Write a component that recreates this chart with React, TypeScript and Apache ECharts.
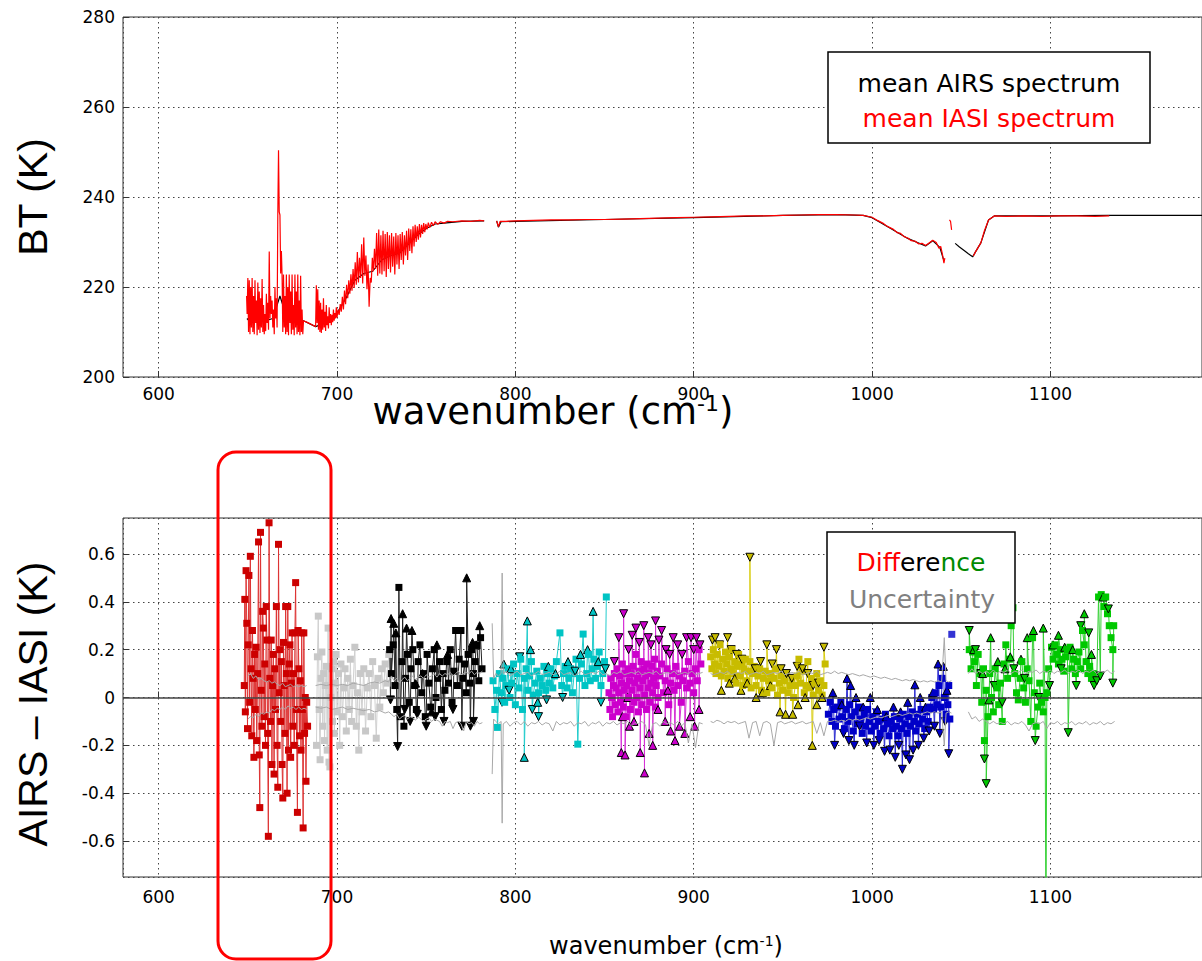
import React, { useEffect, useRef } from "react";
import * as echarts from "echarts";

type Pt = [number, number | null];

// ---------- Top panel: mean spectra [wavenumber (cm-1), BT (K)] ----------
const iasiSpectrum: Pt[] = [
  [649.3,218],[649.6,214],[650.0,222],[650.4,210],[650.8,221.5],[651.2,209.5],[651.6,220],[652.0,211],[652.4,222],[652.8,210],
  [653.2,218],[653.6,209.5],[654.0,221.5],[654.4,212],[654.8,217],[655.2,209.3],[655.6,221],[656.0,210.5],[656.4,219],[656.8,209.8],
  [657.2,217.5],[657.6,211],[658.0,221.8],[658.4,210],[658.8,216],[659.2,209.5],[659.6,214],[660.0,210.2],[660.4,218.5],[660.8,212],
  [661.2,216.5],[661.6,210.5],[662.0,227.9],[662.4,213],[662.8,218],[663.2,214],[663.6,217],[664.0,211],[664.4,215],[664.8,209.5],
  [665.2,220],[665.6,213],[666.0,217.5],[666.4,211],[666.8,236],[667.2,250.4],[667.6,236.7],[668.0,236],[668.4,223],[668.8,228],
  [669.2,222.5],[669.6,210],[670.0,222.8],[670.4,211],[670.8,218],[671.2,209.5],[671.6,222.8],[672.0,210],[672.4,220],[672.8,209.3],
  [673.2,222.8],[673.6,212],[674.0,219],[674.4,209.5],[674.8,222.8],[675.2,210.5],[675.6,216],[676.0,209.3],[676.4,222.8],[676.8,211],
  [677.2,219],[677.6,209.5],[678.0,222.8],[678.4,210],[678.8,217],[679.2,209.3],[679.6,222.5],[680.0,210],[680.4,215],[680.8,209.5],
  [681.2,212.5],[683.0,212.2],[685.0,211.8],[687.0,211.4],[688.0,211.2],[688.4,220.4],[688.8,212],[689.2,219.5],[689.6,210.5],[690.0,217],
  [690.4,210],[690.8,216.5],[691.2,209.8],[691.6,215],[692.0,210.5],[692.4,217.5],[692.8,211],[693.2,214.5],[693.6,210.2],[694.0,216],
  [694.4,211.5],[694.8,213.5],[695.2,210.8],[695.6,215.5],[696.0,212],[696.4,214],[696.8,211.5],[697.2,213.8],[697.6,212.2],[698.0,215],
  [698.4,212.5],[698.8,214.2],[699.2,213],[699.6,215.5],[700.0,213.2],[700.6,215],[701.2,213.8],[701.8,216.2],[702.4,214.5],[703.0,217.8],
  [703.6,215],[704.2,219.2],[704.8,216.2],[705.4,220.5],[706.0,217.5],[706.6,221.5],[707.2,218.5],[707.8,222.8],[708.4,219.2],[709.0,224],
  [709.6,219.8],[710.2,225.5],[710.8,220.5],[711.4,227.8],[712.0,221],[712.6,226.5],[713.2,222],[713.8,229.5],[714.4,220.8],[715.0,231],
  [715.6,222.5],[716.2,227],[716.8,219.5],[717.4,225],[718.0,215.6],[718.6,222],[719.2,221],[719.8,226.5],[720.4,223.5],[721.0,228.5],
  [721.6,224],[722.2,232],[722.8,222.5],[723.4,232.8],[724.0,223],[724.6,231.5],[725.2,222.8],[725.8,232.5],[726.4,223.5],[727.0,231.8],
  [727.6,222.2],[728.2,232.2],[728.8,224],[729.4,231.5],[730.0,223.2],[730.6,232],[731.2,224.5],[731.8,231.2],[732.4,222.8],[733.0,232],
  [733.6,225],[734.2,231.5],[734.8,224],[735.4,231.8],[736.0,226],[736.6,232.2],[737.2,225],[737.8,231.5],[738.4,227],[739.0,232.5],
  [739.6,226],[740.2,233],[740.8,228],[741.4,232.8],[742.0,227.5],[742.6,233.5],[743.2,229],[743.8,233.8],[744.4,230],[745.0,233.5],
  [745.6,230.5],[746.2,234],[746.8,231],[747.4,233.8],[748.0,231.8],[748.6,234.2],[749.2,232.2],[749.8,234],[750.5,232.8],[751.2,234.3],
  [752.0,233.2],[753.0,234.4],[754.0,233.6],[755.0,234.5],[756.5,233.9],[758.0,234.5],[760.0,234.2],[762.0,234.6],[765.0,234.5],[770.0,234.7],
  [775.0,234.6],[780.0,234.8],[782.5,234.7],[784.0,null],
  [789.5,234.7],[790.5,233.4],[791.5,234.6],[795,234.6],[800,234.7],[810,234.8],[820,234.9],[830,234.9],[840,235.0],[850,235.0],
  [860,235.1],[870,235.2],[880,235.3],[890,235.4],[900,235.5],[910,235.6],[920,235.7],[930,235.8],[940,235.8],[950,235.9],
  [960,236.0],[970,236.1],[980,236.1],[990,236.0],[995,235.9],[1000,235.5],[1003,234.8],[1006,234.2],[1008,233.6],[1010,233.2],
  [1012,232.8],[1014,232.1],[1016,231.9],[1018,231.2],[1020,230.9],[1022,230.3],[1024,230.2],[1026,229.6],[1028,229.7],[1030,229.2],
  [1032,229.8],[1034,230.4],[1036,229.9],[1037.5,228.6],[1038.5,229.0],[1039.5,227.2],[1040.3,225.3],[1040.8,226.4],[1042.0,null],
  [1043.4,234.9],[1044.0,234.6],[1044.6,232.7],[1045.5,null],
  [1056.8,226.9],[1058,227.8],[1059.5,228.8],[1061,229.8],[1063,232.5],[1065.3,234.9],[1068.5,235.8],[1075,235.7],[1085,235.8],[1095,235.7],
  [1105,235.8],[1115,235.8],[1125,235.7],[1133,235.8]
];

const airsSpectrum: Pt[] = [
  [649.5,213],[652,212],[656,213.5],[660,212.5],[664,213],[668,218],[672,213],[676,212.5],[680,212],[681.2,212.5],
  [688,211.2],[692,211.8],[696,213],[700,214.2],[705,217.5],[710,221.5],[715,223],[720,223.5],[725,226],[730,227],
  [735,227.5],[740,229.5],[745,231.5],[750,233],[755,234],[760,234.2],[770,234.6],[782.5,234.7],[784,null],
  [789.5,234.7],[790.5,233.3],[792,234.5],[800,234.6],[850,235.0],[900,235.4],[950,235.9],[980,236.1],[995,235.9],[1000,235.4],
  [1010,233.1],[1020,230.8],[1030,229.1],[1034,230.3],[1038,228.8],[1040,226.2],[1041.5,null],
  [1046.6,229.7],[1049,228.9],[1052,228.0],[1054,227.4],[1056.4,226.7],[1058,227.8],[1061,229.8],[1065.3,234.9],[1068.5,235.8],[1100,235.8],
  [1133,235.9],[1160,235.9],[1185,235.9]
];

// ---------- Bottom panel: AIRS - IASI differences [wavenumber, K] ----------
const redSq: Pt[] = [
  [648.0,0.05],[648.3,0.41],[648.6,-0.06],[649.0,0.53],[649.4,0.31],[649.8,-0.13],[650.2,0.22],[650.6,0.51],[651.0,-0.02],[651.4,0.59],
  [651.8,0.12],[652.2,-0.16],[652.6,0.28],[653.0,0.08],[653.4,-0.25],[653.8,0.18],[654.2,-0.05],[654.6,0.21],[655.0,-0.18],[655.5,0.1],
  [656.0,0.65],[656.4,-0.24],[656.7,-0.46],[657.1,0.69],[657.5,0.03],[657.9,-0.12],[658.3,0.36],[658.7,0.29],[659.1,-0.08],[659.5,0.14],
  [659.9,-0.2],[660.3,0.38],[660.7,0.24],[661.1,-0.15],[661.5,-0.58],[661.9,0.73],[662.3,0.08],[662.7,-0.1],[663.1,0.24],[663.5,-0.28],
  [663.9,0.05],[664.3,0.18],[664.7,-0.32],[665.1,0.12],[665.5,-0.05],[666.0,0.38],[666.4,-0.2],[666.8,-0.375],[667.2,0.64],[667.6,0.02],
  [668.0,0.2],[668.4,-0.1],[668.8,0.15],[669.2,-0.28],[669.6,-0.42],[670.0,0.23],[670.4,0.05],[670.8,-0.15],[671.2,0.38],[671.6,0.1],
  [672.0,-0.4],[672.4,0.38],[672.8,-0.22],[673.2,0.14],[673.6,0.22],[674.0,-0.25],[674.4,0.06],[674.8,0.27],[675.2,-0.12],[675.6,0.1],
  [676.0,-0.2],[676.4,0.27],[676.8,0.48],[677.2,-0.05],[677.8,-0.48],[678.2,0.28],[678.6,0.12],[679.0,-0.16],[679.4,0.07],[679.8,-0.22],
  [680.2,0.27],[680.6,-0.05],[681.0,-0.545],[681.4,0.27],[681.8,-0.15],[682.2,0.0],[682.6,-0.35],[683.0,-0.02],[683.5,-0.12]
];

const graySq: Pt[] = [
  [688.5,-0.2],[689.0,0.17],[689.5,0.34],[690.0,-0.05],[690.5,-0.26],[691.0,0.08],[691.5,0.19],[692.0,-0.12],[692.5,0.1],[693.0,-0.18],
  [693.5,0.05],[694.0,0.13],[694.5,-0.22],[695.0,0.29],[695.5,-0.27],[696.0,-0.29],[696.5,0.0],[697.0,0.12],[697.5,-0.1],[698.0,0.15],
  [698.5,-0.15],[699.0,0.06],[699.5,0.18],[700.0,-0.06],[700.8,0.1],[701.5,-0.2],[702.2,0.14],[703.0,-0.08],[703.8,0.04],[704.5,0.12],
  [705.2,-0.14],[706.0,0.08],[706.8,-0.05],[707.5,0.16],[708.2,-0.1],[709.0,0.05],[710.0,0.21],[710.8,-0.12],[711.5,0.02],[712.2,-0.22],
  [713.0,0.1],[714.0,-0.06],[715.0,0.12],[716.0,-0.14],[717.0,0.04],[718.0,0.1],[719.0,-0.08],[720.0,0.15],[721.0,0.05],[722.0,-0.17],
  [723.0,0.08],[724.0,-0.04],[725.0,0.12],[726.0,0.02],[727.0,0.14],[728.0,0.06],[729.0,0.18]
];

const blackSq: Pt[] = [
  [729.5,0.2],[730.5,0.1],[731.5,0.22],[732.5,0.05],[733.5,-0.05],[734.7,0.46],[735.5,-0.08],[736.5,0.15],[737.5,-0.12],[738.5,0.08],
  [739.5,0.18],[740.5,-0.02],[741.5,0.12],[742.5,0.2],[743.5,0.05],[744.5,-0.05],[745.5,0.15],[746.5,0.22],[747.5,0.02],[748.5,0.1],
  [749.5,-0.08],[750.5,0.18],[751.5,0.06],[752.5,-0.04],[753.5,0.12],[754.5,0.2],[755.5,0.0],[756.5,0.08],[757.5,0.15],[758.5,-0.05],
  [759.5,0.1],[760.5,0.03],[761.5,0.15],[762.5,0.06],[763.5,0.2],[764.5,-0.02],[765.5,0.11],[766.5,0.28],[767.5,0.05],[768.5,0.16],
  [769.5,0.28],[770.5,0.08],[771.5,0.14],[772.5,0.02],[773.5,0.18],[774.5,0.06],[775.5,0.2],[776.5,0.1],[777.5,0.15],[778.5,0.22],
  [779.5,0.07],[780.5,0.25],[781.3,0.12]
];
const blackUp: Pt[] = [
  [730.3,0.33],[731.8,0.31],[733.0,0.27],[736.8,0.35],[739.0,0.29],[742.0,0.28],[744.0,0.06],[748.0,0.1],[753.0,-0.06],[756.0,0.22],
  [762.0,0.18],[772.7,0.5],[776.0,0.23],[778.0,0.22],[780.0,0.3]
];
const blackDn: Pt[] = [
  [730.0,-0.01],[734.0,-0.205],[738.0,-0.05],[741.0,-0.1],[745.0,-0.07],[750.0,-0.12],[755.0,-0.08],[760.0,-0.1],[765.0,-0.05],[770.0,-0.12],
  [774.8,-0.12],[776.5,-0.1]
];

const cyanSq: Pt[] = [
  [787.5,0.07],[788.5,-0.05],[789.5,0.03],[790.0,-0.125],[791.0,0.1],[792.0,0.02],[793.0,0.08],[794.0,-0.02],[795.0,0.05],[796.0,0.12],
  [797.0,0.0],[798.0,0.06],[799.0,0.14],[800.0,-0.03],[801.0,0.1],[802.0,0.04],[803.0,0.16],[804.0,-0.05],[805.0,0.08],[806.0,0.12],
  [807.0,0.03],[808.0,0.09],[809.0,0.15],[810.0,0.01],[811.0,0.06],[812.0,0.11],[813.0,0.02],[814.0,0.08],[815.0,0.05],[816.0,0.13],
  [817.0,0.03],[818.0,0.1],[819.0,0.06],[820.0,0.12],[821.0,0.04],[822.0,0.09],[823.0,0.15],[825.0,0.27],[826.0,0.05],[827.0,0.1],
  [828.0,0.13],[829.0,0.04],[830.0,0.08],[831.0,0.12],[832.0,0.02],[833.0,0.1],[834.0,0.16],[835.0,-0.195],[836.0,0.08],[837.0,0.14],
  [838.0,0.265],[839.0,0.05],[840.0,0.1],[841.0,0.18],[842.0,0.07],[843.0,0.12],[844.0,0.16],[845.0,0.08],[846.0,0.13],[847.0,0.19],
  [848.0,0.05],[849.0,0.1],[850.0,0.15],[851.0,0.42]
];
const cyanUp: Pt[] = [
  [793.5,0.14],[797.5,0.12],[805.0,-0.25],[806.7,0.32],[808.5,0.2],[812.5,-0.02],[818.5,0.13],[822.5,0.1],[829.5,0.15],[836.5,0.18],
  [840.5,0.2],[843.6,0.36],[846.5,0.15]
];
const cyanDn: Pt[] = [
  [792.5,-0.02],[796.5,0.03],[802.5,0.17],[809.5,-0.05],[813.0,-0.08],[817.5,-0.01],[826.5,0.0],[833.5,0.11],[848.0,-0.02],[850.5,0.12]
];

const magSq: Pt[] = [
  [852.5,0.02],[853.0,-0.05],[853.5,0.08],[854.0,0.0],[854.5,-0.08],[855.0,0.05],[855.5,0.1],[856.0,-0.03],[856.5,0.04],[857.0,0.12],
  [857.5,-0.06],[858.0,0.02],[858.5,0.09],[859.0,-0.02],[859.5,0.06],[860.0,0.14],[860.5,-0.04],[861.0,0.03],[861.5,0.1],[862.0,-0.08],
  [862.5,0.05],[863.0,0.12],[863.5,0.0],[864.0,0.07],[864.5,-0.05],[865.0,0.1],[865.5,0.03],[866.0,0.13],[866.5,-0.02],[867.0,0.06],
  [867.5,0.18],[868.0,0.0],[868.5,0.08],[869.0,-0.06],[869.5,0.11],[870.0,0.04],[870.5,0.15],[871.0,-0.03],[871.5,0.07],[872.0,0.12],
  [872.5,0.01],[873.0,0.09],[873.5,-0.05],[874.0,0.14],[874.5,0.04],[875.0,0.1],[875.5,-0.02],[876.0,0.06],[876.5,0.13],[877.0,0.02],
  [877.5,0.08],[878.0,0.16],[878.5,-0.04],[879.0,0.05],[879.5,0.11],[880.0,0.0],[881.0,0.09],[882.0,0.14],[883.0,0.02],[884.0,0.07],
  [885.0,0.12],[886.0,-0.03],[887.0,0.06],[888.0,0.1],[889.0,0.03],[890.0,0.13],[891.0,0.05],[892.0,0.09],[893.0,-0.02],[894.0,0.07],
  [895.0,0.11],[896.0,0.04],[897.0,0.15],[898.0,0.06],[899.0,0.1],[900.0,0.02],[901.0,0.12],[902.0,0.07],[903.0,0.2],[904.0,0.14]
];
const magUp: Pt[] = [
  [859.4,-0.23],[860.0,-0.08],[861.5,-0.24],[863.0,0.0],[864.0,-0.12],[866.5,-0.1],[870.0,-0.23],[872.4,-0.315],[875.0,-0.15],[877.0,-0.2],
  [880.0,-0.05],[884.0,-0.1],[885.5,0.03],[887.0,-0.14],[889.5,-0.18],[892.0,-0.12],[895.0,-0.15],[898.0,-0.08],[900.5,-0.12],[903.0,-0.05]
];
const magDn: Pt[] = [
  [855.5,0.15],[858.0,0.25],[860.7,0.35],[863.5,0.2],[865.5,0.26],[867.6,0.29],[869.5,0.23],[872.0,0.3],[874.5,0.25],[876.0,0.22],
  [878.6,0.32],[880.5,0.24],[882.0,0.28],[884.5,0.2],[886.5,0.18],[888.5,0.25],[891.0,0.22],[893.5,0.18],[896.0,0.25],[898.5,0.25],
  [900.0,0.2],[901.5,0.25],[903.5,0.22]
];

const yelSq: Pt[] = [
  [909.5,0.17],[910.2,0.12],[911.0,0.2],[911.8,0.14],[912.5,0.1],[913.2,0.18],[914.0,0.13],[914.8,0.22],[915.5,0.09],[916.2,0.16],
  [917.0,0.11],[917.8,0.19],[918.5,0.14],[919.2,0.08],[920.0,0.17],[920.8,0.12],[921.5,0.2],[922.2,0.1],[923.0,0.15],[923.8,0.06],
  [924.5,0.13],[925.2,0.18],[926.0,0.09],[926.8,0.14],[927.5,0.05],[928.2,0.12],[929.0,0.16],[929.8,0.07],[930.5,0.11],[931.5,0.15],
  [932.2,0.04],[933.0,0.1],[934.0,0.13],[935.0,0.05],[936.0,0.09],[937.0,0.12],[938.0,0.03],[939.0,0.08],[940.0,0.11],[941.0,0.02],
  [942.0,0.07],[943.0,0.1],[944.0,0.04],[945.0,0.08],[946.0,0.12],[947.0,0.01],[948.0,0.06],[949.0,0.09],[950.0,0.03],[951.0,0.07],
  [952.0,0.1],[953.0,0.02],[954.0,0.05],[955.0,0.08],[956.0,0.0],[957.0,0.05],[958.0,0.09],[959.0,0.16],[960.0,0.06],[961.0,0.11],
  [962.0,0.02],[963.0,0.05],[964.0,0.15],[965.0,0.04],[966.0,0.08],[967.0,0.01],[968.0,0.06],[969.0,0.1],[970.0,0.03],[971.0,0.07],
  [972.0,0.01],[973.0,0.05],[973.7,0.14]
];
const yelUp: Pt[] = [
  [915.5,0.03],[920.0,0.06],[923.0,0.08],[926.5,0.03],[930.0,0.06],[935.0,0.0],[938.5,0.02],[943.0,0.05],[948.4,-0.06],[951.5,-0.07],
  [955.5,-0.07],[958.5,-0.03],[962.5,0.0],[966.5,-0.2],[969.0,-0.03],[972.0,0.0]
];
const yelDn: Pt[] = [
  [910.5,0.24],[912.0,0.25],[914.5,0.22],[919.0,0.25],[921.0,0.2],[924.0,0.18],[927.0,0.16],[931.5,0.586],[934.5,0.12],[937.5,0.15],
  [941.0,0.22],[944.0,0.14],[946.4,0.2],[949.0,0.12],[952.0,0.1],[955.0,0.08],[958.0,0.13],[961.0,0.12],[964.0,0.1],[967.0,0.05],
  [970.0,0.06],[973.0,0.21]
];

const blueSq: Pt[] = [
  [975.5,-0.07],[976.5,-0.02],[977.5,-0.1],[978.5,-0.05],[979.5,-0.12],[980.5,-0.04],[981.5,-0.09],[982.5,-0.02],[983.5,-0.08],[984.5,-0.13],
  [985.5,-0.05],[986.5,-0.1],[987.5,-0.03],[988.5,-0.08],[989.5,-0.14],[990.5,-0.06],[991.5,-0.11],[992.5,-0.04],[993.5,-0.09],[994.5,-0.15],
  [995.5,-0.07],[996.5,-0.12],[997.5,-0.05],[998.5,-0.1],[999.5,-0.14],[1000.5,-0.08],[1001.5,-0.12],[1002.5,-0.06],[1003.5,-0.1],[1004.5,-0.15],
  [1005.5,-0.09],[1006.5,-0.13],[1007.5,-0.07],[1008.5,-0.11],[1009.5,-0.16],[1010.5,-0.1],[1011.5,-0.13],[1012.5,-0.08],[1013.5,-0.12],[1014.5,-0.16],
  [1015.5,-0.09],[1016.5,-0.13],[1017.5,-0.07],[1018.5,-0.11],[1019.5,-0.15],[1020.5,-0.08],[1021.5,-0.12],[1022.5,-0.06],[1023.5,-0.1],[1024.5,-0.14],
  [1025.5,-0.07],[1026.5,-0.11],[1027.5,-0.05],[1028.5,-0.09],[1029.5,-0.13],[1030.5,-0.06],[1031.5,-0.1],[1032.5,-0.04],[1033.5,0.0],[1034.5,-0.05],
  [1035.5,0.02],[1036.5,-0.03],[1037.5,0.05],[1038.5,-0.04],[1039.5,0.08],[1040.5,0.0],[1041.5,-0.07],[1042.5,-0.03],[1043.0,0.05],[1043.6,-0.09]
];
const blueUp: Pt[] = [
  [978.0,0.02],[983.0,-0.03],[986.0,0.08],[988.0,0.05],[991.0,0.0],[995.0,-0.04],[999.0,0.0],[1003.0,-0.05],[1008.0,-0.08],[1012.0,-0.04],
  [1016.0,-0.06],[1020.0,-0.02],[1024.0,0.053],[1027.0,0.0],[1030.0,-0.04],[1034.0,0.02],[1037.0,0.14],[1040.0,0.13],[1042.0,0.03]
];
const blueDn: Pt[] = [
  [979.0,-0.2],[984.0,-0.15],[987.0,-0.18],[990.0,-0.2],[993.0,-0.12],[997.0,-0.19],[1001.0,-0.2],[1004.0,-0.18],[1007.0,-0.225],[1010.0,-0.22],
  [1013.0,-0.25],[1015.0,-0.2],[1017.0,-0.3],[1019.0,-0.24],[1021.0,-0.26],[1023.0,-0.22],[1026.0,-0.2],[1029.0,-0.17],[1032.0,-0.14],[1035.0,-0.12],
  [1038.0,-0.15],[1041.0,-0.1],[1043.0,-0.235]
];
const blueLone: Pt[] = [[1044.7,0.264]];

const greenSq: Pt[] = [
  [1054.5,0.2],[1055.5,0.12],[1056.5,0.19],[1057.5,0.15],[1058.5,0.05],[1059.5,0.18],[1060.5,0.1],[1061.5,-0.02],[1062.5,0.12],[1063.0,-0.18],
  [1064.0,0.03],[1065.0,-0.08],[1066.0,0.1],[1067.0,0.0],[1068.0,-0.06],[1069.0,0.12],[1070.0,0.04],[1071.0,-0.03],[1072.0,0.06],[1073.0,-0.1],
  [1074.0,0.14],[1075.0,0.22],[1076.0,0.08],[1077.0,0.16],[1078.0,0.3],[1079.0,0.375],[1080.0,0.1],[1081.0,0.02],[1082.0,-0.01],[1083.0,0.08],
  [1084.0,0.15],[1085.0,0.04],[1086.0,-0.02],[1087.0,0.12],[1088.0,0.07],[1089.0,-0.1],[1090.0,0.25],[1091.0,0.02],[1092.0,-0.12],[1093.0,-0.04],
  [1094.0,0.06],[1095.0,-0.02],[1096.0,-0.06],[1097.0,0.0],[1097.5,-1.0],[1098.0,0.02],[1099.0,0.12],[1100.6,0.21],[1101.5,0.16],[1102.5,0.22],
  [1103.5,0.18],[1104.5,0.14],[1105.5,0.2],[1106.5,0.16],[1107.5,0.11],[1108.5,0.17],[1109.5,0.2],[1111.0,0.21],[1112.0,0.12],[1113.0,0.16],
  [1114.0,0.1],[1115.0,0.15],[1116.0,0.19],[1117.0,0.12],[1118.0,0.28],[1119.0,0.22],[1120.0,0.15],[1121.0,0.1],[1122.0,0.13],[1123.0,0.08],
  [1124.0,0.1],[1127.0,0.42],[1128.5,0.43],[1130.0,0.38],[1131.0,0.42],[1132.0,0.35],[1133.0,0.3],[1134.0,0.25],[1135.0,0.2],[1135.5,0.3]
];
const greenUp: Pt[] = [
  [1057.0,0.2],[1062.0,0.1],[1065.5,-0.01],[1066.5,0.25],[1070.5,0.15],[1074.5,0.12],[1077.5,0.17],[1083.5,0.16],[1087.0,0.25],[1090.5,0.28],
  [1096.0,0.29],[1101.5,0.22],[1104.5,0.26],[1108.0,0.21],[1112.5,0.2],[1119.0,0.35],[1123.0,0.18],[1129.5,0.42]
];
const greenDn: Pt[] = [
  [1054.5,0.28],[1058.0,0.2],[1061.0,0.1],[1063.0,-0.257],[1064.0,-0.36],[1068.5,0.05],[1073.0,-0.02],[1079.5,0.12],[1085.5,0.08],[1091.5,-0.18],
  [1093.5,0.0],[1099.5,0.05],[1106.0,0.12],[1110.0,-0.147],[1114.5,0.05],[1117.0,0.3],[1121.5,0.27],[1124.5,0.05],[1126.0,0.07],[1128.0,0.09],
  [1132.5,0.37],[1135.0,0.06]
];

// Uncertainty envelope: [wavenumber, upper, lower]
const uncertainty: [number, number | null, number | null][] = [
  [650,0.09,-0.09],[651.5,0.1,-0.08],[653,0.08,-0.085],[654.5,0.09,-0.07],[656,0.075,-0.08],[657.5,0.08,-0.065],[659,0.07,-0.07],[660.5,0.065,-0.06],
  [662,0.07,-0.065],[663.5,0.06,-0.05],[665,0.065,-0.055],[666.5,0.055,-0.045],[668,0.05,-0.05],[669.5,0.06,-0.04],[671,0.045,-0.05],[672.5,0.05,-0.035],
  [674,0.055,-0.045],[675.5,0.045,-0.04],[677,0.05,-0.05],[678.5,0.045,-0.04],[680,0.05,-0.05],[681.5,0.045,-0.045],[683,0.05,-0.05],[684.5,null,null],
  [688,0.05,-0.04],[691,0.055,-0.045],[694,0.05,-0.04],[697,0.055,-0.05],[700,0.05,-0.045],[703,0.055,-0.04],[706,0.05,-0.05],[709,0.06,-0.045],
  [712,0.055,-0.05],[715,0.05,-0.055],[718,0.06,-0.05],[721,0.065,-0.06],[724,0.06,-0.055],[727,0.07,-0.065],[729,0.065,-0.06],[730.5,0.09,-0.07],
  [732,0.07,-0.08],[733.5,0.08,-0.07],[735,0.06,-0.09],[736.5,0.075,-0.08],[738,0.085,-0.075],[739.5,0.07,-0.09],[741,0.08,-0.08],[742.5,0.09,-0.085],
  [744,0.075,-0.095],[745.5,0.085,-0.08],[747,0.09,-0.09],[748.5,0.08,-0.1],[750,0.095,-0.09],[751.5,0.085,-0.085],[753,0.09,-0.1],[754.5,0.1,-0.09],
  [756,0.085,-0.095],[757.5,0.1,-0.1],[759,0.09,-0.12],[760.5,0.1,-0.1],[762,0.095,-0.105],[763.5,0.105,-0.1],[765,0.09,-0.13],[766.5,0.1,-0.105],
  [768,0.11,-0.1],[769.5,0.095,-0.11],[771,0.1,-0.14],[772.5,0.105,-0.1],[774,0.1,-0.11],[775.5,0.11,-0.105],[777,0.095,-0.12],[778.5,0.105,-0.1],
  [780,0.1,-0.11],[781.5,0.11,-0.105],[783,null,null],
  [787,0.31,-0.32],[787.8,0.08,-0.09],[789,0.1,-0.1],[790.5,0.09,-0.11],[792,0.1,-0.1],[792.6,0.52,-0.525],[793.2,0.1,-0.11],[795,0.11,-0.1],
  [797,0.09,-0.12],[799,0.1,-0.105],[801,0.11,-0.1],[803,0.095,-0.115],[805,0.1,-0.1],[807,0.105,-0.12],[809,0.09,-0.105],[811,0.1,-0.11],
  [813,0.11,-0.1],[815,0.095,-0.115],[817,0.1,-0.105],[819,0.105,-0.11],[821,0.095,-0.14],[823,0.1,-0.1],[825,0.11,-0.115],[827,0.095,-0.105],
  [829,0.1,-0.11],[831,0.105,-0.1],[833,0.09,-0.12],[835,0.1,-0.105],[837,0.11,-0.11],[839,0.095,-0.1],[841,0.1,-0.12],[843,0.105,-0.105],
  [845,0.1,-0.11],[847,0.11,-0.1],[849,0.095,-0.12],[851,0.1,-0.105],[853,0.09,-0.11],[855,0.105,-0.1],[857,0.1,-0.115],[859,0.11,-0.105],
  [861,0.095,-0.11],[863,0.1,-0.1],[865,0.105,-0.12],[867,0.1,-0.105],[869,0.11,-0.11],[871,0.095,-0.1],[873,0.1,-0.115],[875,0.105,-0.2],
  [877,0.1,-0.11],[879,0.11,-0.105],[881,0.095,-0.12],[883,0.1,-0.1],[885,0.105,-0.11],[887,0.1,-0.105],[889,0.11,-0.115],[891,0.095,-0.1],
  [893,0.1,-0.12],[895,0.105,-0.105],[897,0.1,-0.19],[899,0.11,-0.11],[901,0.095,-0.21],[903,0.1,-0.105],[905,0.105,-0.11],[907,null,null],
  [909.5,0.1,-0.1],[911,0.095,-0.105],[913,0.1,-0.095],[915,0.105,-0.1],[917,0.1,-0.11],[919,0.11,-0.1],[921,0.095,-0.105],[923,0.1,-0.1],
  [925,0.105,-0.11],[927,0.1,-0.105],[929,0.11,-0.1],[931,0.095,-0.17],[933,0.1,-0.105],[935,0.105,-0.1],[937,0.1,-0.16],[939,0.11,-0.105],
  [941,0.095,-0.1],[943,0.1,-0.11],[945,0.105,-0.2],[947,0.1,-0.105],[949,0.11,-0.1],[951,0.095,-0.11],[953,0.1,-0.105],[955,0.105,-0.1],
  [957,0.1,-0.11],[959,0.11,-0.105],[961,0.095,-0.1],[963,0.1,-0.11],[965,0.105,-0.105],[967,0.1,-0.1],[969,0.11,-0.15],[971,0.095,-0.105],
  [973,0.1,-0.16],[975,0.105,-0.1],[977,0.1,-0.1],[979,0.11,-0.095],[981,0.1,-0.1],[983,0.105,-0.095],[985,0.1,-0.1],[987,0.095,-0.09],
  [989,0.1,-0.095],[991,0.095,-0.09],[993,0.09,-0.095],[995,0.095,-0.09],[997,0.09,-0.085],[999,0.085,-0.09],[1001,0.09,-0.085],[1003,0.085,-0.08],
  [1005,0.08,-0.085],[1007,0.085,-0.08],[1009,0.08,-0.075],[1011,0.075,-0.08],[1013,0.08,-0.075],[1015,0.075,-0.07],[1017,0.07,-0.075],[1019,0.075,-0.07],
  [1021,0.07,-0.065],[1023,0.075,-0.07],[1025,0.07,-0.065],[1027,0.065,-0.07],[1029,0.07,-0.065],[1031,0.065,-0.06],[1033,0.07,-0.065],[1035,0.065,-0.06],
  [1037,0.07,-0.065],[1039,0.065,-0.06],[1040.5,0.25,-0.2],[1041.5,0.07,-0.065],[1043,0.065,-0.06],[1044.5,0.07,-0.065],[1046,null,null],
  [1054,0.1,-0.06],[1056,0.12,-0.09],[1058,0.1,-0.08],[1060,0.11,-0.1],[1062,0.1,-0.09],[1064,0.11,-0.1],[1066,0.1,-0.11],[1068,0.115,-0.1],
  [1070,0.1,-0.11],[1072,0.11,-0.105],[1074,0.105,-0.11],[1076,0.115,-0.1],[1078,0.1,-0.115],[1080,0.11,-0.105],[1082,0.105,-0.11],[1084,0.115,-0.1],
  [1086,0.1,-0.115],[1088,0.11,-0.14],[1090,0.105,-0.11],[1092,0.115,-0.105],[1094,0.1,-0.11],[1096,0.11,-0.1],[1098,0.105,-0.13],[1100,0.115,-0.105],
  [1102,0.1,-0.11],[1104,0.11,-0.1],[1106,0.105,-0.115],[1108,0.115,-0.105],[1110,0.1,-0.11],[1112,0.11,-0.1],[1114,0.105,-0.115],[1116,0.115,-0.105],
  [1118,0.1,-0.11],[1120,0.11,-0.1],[1122,0.105,-0.115],[1124,0.115,-0.105],[1126,0.1,-0.11],[1128,0.11,-0.1],[1130,0.105,-0.115],[1132,0.115,-0.105],
  [1134,0.1,-0.11],[1136,0.11,-0.1]
];

// Axis settings
const topX = { min: 580, max: 1185, splitNumber: 6 };
const topY = { min: 200, max: 280, interval: 20 };
const botY = { min: -0.75, max: 0.75, splitNumber: 7 };

const bands = [
  { name: "band1", color: "#cc0000", line: "#dd3333", sq: redSq, up: [] as Pt[], dn: [] as Pt[] },
  { name: "band2", color: "#c8c8c8", line: "#d0d0d0", sq: graySq, up: [] as Pt[], dn: [] as Pt[] },
  { name: "band3", color: "#000000", line: "#222222", sq: blackSq, up: blackUp, dn: blackDn },
  { name: "band4", color: "#00c4c4", line: "#22cccc", sq: cyanSq, up: cyanUp, dn: cyanDn },
  { name: "band5", color: "#cc00cc", line: "#d633d6", sq: magSq, up: magUp, dn: magDn },
  { name: "band6", color: "#c8bc00", line: "#d8cc10", sq: yelSq, up: yelUp, dn: yelDn },
  { name: "band7", color: "#0000c8", line: "#2a2ad0", sq: blueSq, up: blueUp, dn: blueDn },
  { name: "band8", color: "#00c800", line: "#33d033", sq: greenSq, up: greenUp, dn: greenDn },
];

function bandSeries(b: typeof bands[number]) {
  const items: any[] = [];
  b.sq.forEach((p) => items.push({ value: p, symbol: "rect", symbolSize: 7, itemStyle: { color: b.color, borderWidth: 0 } }));
  b.up.forEach((p) => items.push({ value: p, symbol: "triangle", symbolSize: 8, itemStyle: { color: b.color, borderColor: "#000", borderWidth: 1 } }));
  b.dn.forEach((p) => items.push({ value: p, symbol: "triangle", symbolRotate: 180, symbolSize: 8, itemStyle: { color: b.color, borderColor: "#000", borderWidth: 1 } }));
  items.sort((a, c) => a.value[0] - c.value[0]);
  return {
    name: b.name,
    type: "line",
    xAxisIndex: 1,
    yAxisIndex: 1,
    data: items,
    showSymbol: true,
    showAllSymbol: true,
    symbol: "rect",
    symbolSize: 7,
    lineStyle: { color: b.line, width: 1 },
    itemStyle: { color: b.color },
    silent: true,
    emphasis: { disabled: true },
    z: 3,
  };
}

const plainNumber = (v: number) => String(v);
const labelFont = { color: "#000", fontFamily: "DejaVu Sans", fontSize: 17 };
const dotted = { show: true, lineStyle: { color: "#444", type: [1.5, 3.5], width: 1 } };
const ticks = { show: true, inside: true, length: 6, lineStyle: { color: "#333" } };

function buildOption(): any {
  const sup = (size: number) => ({
    a: { fontFamily: "DejaVu Sans", fontSize: size, fill: "#000" },
    s: { fontFamily: "DejaVu Sans", fontSize: Math.round(size * 0.6), fill: "#000", verticalAlign: "top" },
  });
  return {
    animation: false,
    backgroundColor: "#fff",
    grid: [
      { left: 123, top: 17, right: -4, height: 360, show: true, borderColor: "#333", borderWidth: 1, backgroundColor: "transparent" },
      { left: 123, top: 518, right: -4, height: 359, show: true, borderColor: "#333", borderWidth: 1, backgroundColor: "transparent" },
    ],
    xAxis: [
      {
        type: "value", gridIndex: 0, ...topX,
        axisLine: { show: false }, axisTick: ticks,
        axisLabel: { ...labelFont, margin: 8, showMinLabel: false, showMaxLabel: false, formatter: plainNumber },
        splitLine: dotted,
      },
      {
        type: "value", gridIndex: 1, ...topX,
        axisLine: { show: false }, axisTick: ticks,
        axisLabel: { ...labelFont, margin: 11, showMinLabel: false, showMaxLabel: false, formatter: plainNumber },
        splitLine: dotted,
      },
    ],
    yAxis: [
      {
        type: "value", gridIndex: 0, ...topY,
        axisLine: { show: false }, axisTick: ticks,
        axisLabel: { ...labelFont, margin: 8, formatter: plainNumber },
        splitLine: dotted,
      },
      {
        type: "value", gridIndex: 1, ...botY,
        axisLine: { show: false }, axisTick: ticks,
        axisLabel: { ...labelFont, margin: 8, showMinLabel: false, showMaxLabel: false },
        splitLine: dotted,
      },
    ],
    series: [
      {
        name: "mean AIRS spectrum", type: "line", xAxisIndex: 0, yAxisIndex: 0, data: airsSpectrum,
        showSymbol: false, symbol: "none", lineStyle: { color: "#000", width: 1.2 }, silent: true, z: 2,
      },
      {
        name: "mean IASI spectrum", type: "line", xAxisIndex: 0, yAxisIndex: 0, data: iasiSpectrum,
        showSymbol: false, symbol: "none", lineStyle: { color: "#ff0000", width: 1.2 }, silent: true, z: 3,
      },
      ...bands.map(bandSeries),
      {
        name: "lone", type: "scatter", xAxisIndex: 1, yAxisIndex: 1, data: blueLone,
        symbol: "rect", symbolSize: 7, itemStyle: { color: "#0000c8" }, silent: true, z: 3,
      },
      {
        name: "Uncertainty upper", type: "line", xAxisIndex: 1, yAxisIndex: 1,
        data: uncertainty.map((u) => [u[0], u[1]]),
        showSymbol: false, symbol: "none", lineStyle: { color: "#a8a8a8", width: 1 }, silent: true, z: 4,
      },
      {
        name: "Uncertainty lower", type: "line", xAxisIndex: 1, yAxisIndex: 1,
        data: uncertainty.map((u) => [u[0], u[2]]),
        showSymbol: false, symbol: "none", lineStyle: { color: "#a8a8a8", width: 1 }, silent: true, z: 4,
        markLine: {
          silent: true, symbol: ["none", "none"], label: { show: false },
          lineStyle: { color: "#444", type: "solid", width: 1.5 },
          data: [{ yAxis: 0 }],
        },
      },
    ],
    graphic: [
      // Axis titles
      {
        type: "text", z: 100, x: 553, y: 411,
        style: { text: "{a|wavenumber (cm}{s|-1}{a|)}", rich: sup(37), align: "center", verticalAlign: "middle" },
      },
      {
        type: "text", z: 100, x: 666, y: 946,
        style: { text: "{a|wavenumber (cm}{s|-1}{a|)}", rich: sup(24), align: "center", verticalAlign: "middle" },
      },
      {
        type: "text", z: 100, x: 33, y: 197, rotation: Math.PI / 2,
        style: { text: "BT (K)", fontFamily: "Liberation Sans", fontSize: 41, fill: "#000", align: "center", verticalAlign: "middle" },
      },
      {
        type: "text", z: 100, x: 33, y: 704, rotation: Math.PI / 2,
        style: { text: "AIRS – IASI (K)", fontFamily: "Liberation Sans", fontSize: 41, fill: "#000", align: "center", verticalAlign: "middle" },
      },
      // Top legend
      {
        type: "rect", z: 100, shape: { x: 828, y: 52, width: 322, height: 91 },
        style: { fill: "#fff", stroke: "#000", lineWidth: 1.5 },
      },
      {
        type: "text", z: 101, x: 989, y: 83,
        style: { text: "mean AIRS spectrum", fontFamily: "DejaVu Sans", fontSize: 25, fill: "#000", align: "center", verticalAlign: "middle" },
      },
      {
        type: "text", z: 101, x: 989, y: 118,
        style: { text: "mean IASI spectrum", fontFamily: "DejaVu Sans", fontSize: 25, fill: "#ff0000", align: "center", verticalAlign: "middle" },
      },
      // Bottom legend
      {
        type: "rect", z: 100, shape: { x: 827, y: 532, width: 188, height: 91 },
        style: { fill: "#fff", stroke: "#000", lineWidth: 1.5 },
      },
      {
        type: "text", z: 101, x: 921, y: 562,
        style: {
          text: "{r|Diff}{k|ere}{g|nce}",
          rich: {
            r: { fontFamily: "DejaVu Sans", fontSize: 25, fill: "#ff0000" },
            k: { fontFamily: "DejaVu Sans", fontSize: 25, fill: "#000000" },
            g: { fontFamily: "DejaVu Sans", fontSize: 25, fill: "#008a00" },
          },
          align: "center", verticalAlign: "middle",
        },
      },
      {
        type: "text", z: 101, x: 922, y: 599,
        style: { text: "Uncertainty", fontFamily: "DejaVu Sans", fontSize: 25, fill: "#808080", align: "center", verticalAlign: "middle" },
      },
      // Highlight box
      {
        type: "rect", z: 102, shape: { x: 218, y: 452, width: 113, height: 507, r: 18 },
        style: { fill: "none", stroke: "#ff0000", lineWidth: 3 },
      },
    ],
  };
}

export default function App() {
  const ref = useRef<HTMLDivElement>(null);
  useEffect(() => {
    if (!ref.current) return;
    const chart = echarts.init(ref.current, null, { renderer: "svg" });
    chart.setOption(buildOption());
    return () => chart.dispose();
  }, []);
  return (
    <div
      ref={ref}
      style={{ position: "fixed", left: 0, top: 0, width: 1202, height: 961, background: "#fff" }}
    />
  );
}
